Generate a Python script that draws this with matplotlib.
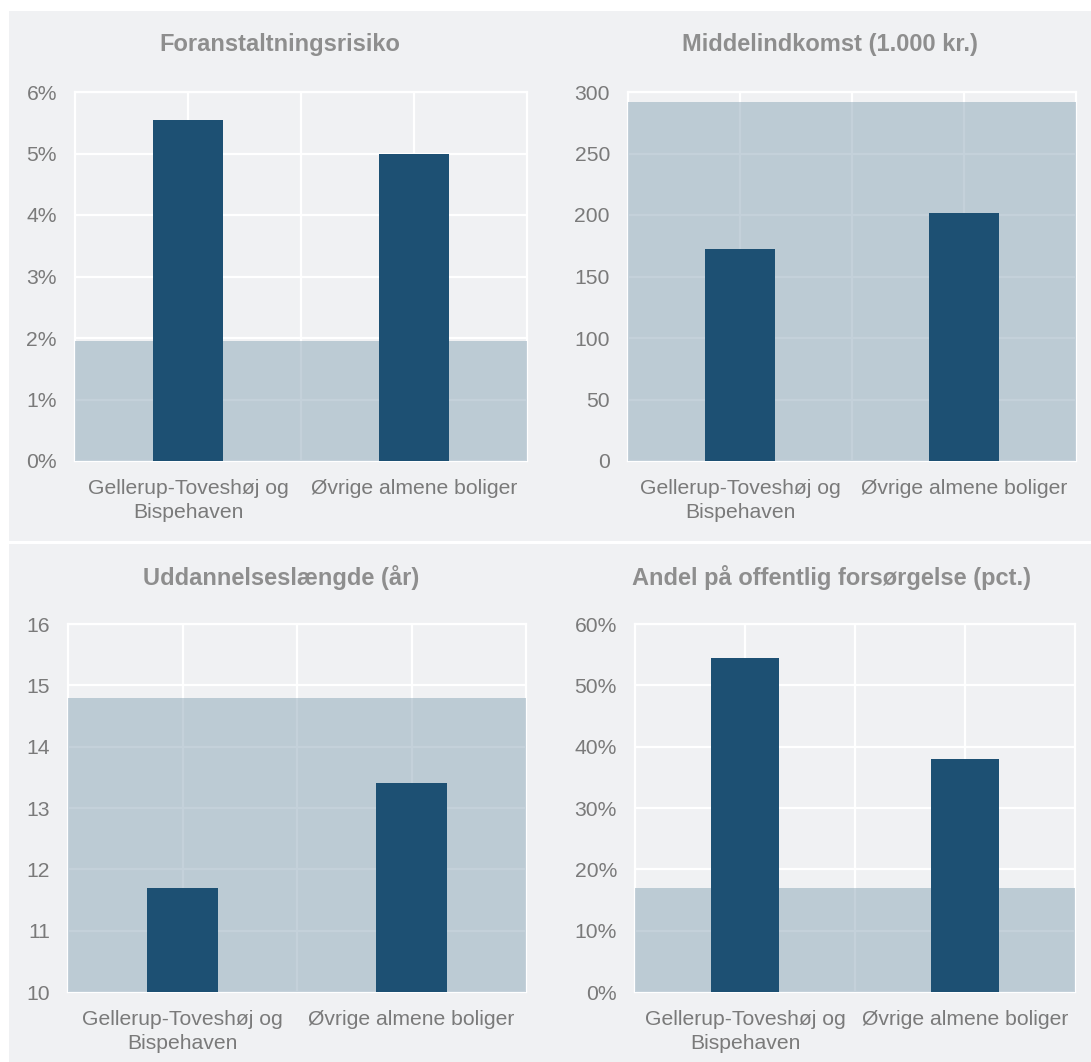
import matplotlib
matplotlib.use("Agg")
import matplotlib.pyplot as plt
from matplotlib.patches import Rectangle
from matplotlib.lines import Line2D
from matplotlib.ticker import FuncFormatter, FixedLocator

plt.rcParams['font.family'] = ['Liberation Sans', 'DejaVu Sans']

categories = ["Gellerup-Toveshøj og\nBispehaven", "Øvrige almene boliger"]

titles = ["Foranstaltningsrisiko", "Middelindkomst (1.000 kr.)",
          "Uddannelseslængde (år)", "Andel på offentlig forsørgelse (pct.)"]

risk_values = [5.55, 5.0]
risk_reference = 1.95
income_values = [172, 202]
income_reference = 292
education_values = [11.7, 13.4]
education_reference = 14.8
support_values = [54.5, 38.0]
support_reference = 17.0

y_limits = [(0, 6), (0, 300), (10, 16), (0, 60)]
y_steps = [1, 50, 1, 10]
percent_axes = [True, False, False, True]

W, H = 1091, 1062
fig = plt.figure(figsize=(W / 100, H / 100), dpi=100, facecolor='white')

BG = '#f0f1f3'
BAR = '#1d5073'
SHADE = '#8ea8b8'
TICK_C = '#7a7a7a'
TITLE_C = '#8e8e8e'

# panel background
fig.patches.append(Rectangle((9 / W, 0), 1 - 9 / W, 1 - 11 / H, transform=fig.transFigure,
                             facecolor=BG, edgecolor='none', zorder=-10))
fig.lines.append(Line2D([9 / W, 1], [1 - 541.5 / H, 1 - 541.5 / H], transform=fig.transFigure,
                        color='white', linewidth=2.2, zorder=-5))

# axes boxes in pixel coords (left, right, top, bottom)
boxes = [(75, 527, 92, 461), (628, 1076, 92, 461), (68, 526, 624, 992), (635, 1075, 624, 992)]
title_pos = [(280, 45), (830, 45), (281, 578), (831, 578)]

series = [risk_values, income_values, education_values, support_values]
refs = [risk_reference, income_reference, education_reference, support_reference]

for i in range(4):
    l, r, t, b = boxes[i]
    ax = fig.add_axes([l / W, 1 - b / H, (r - l) / W, (b - t) / H])
    ax.set_facecolor(BG)
    lo, hi = y_limits[i]
    ax.set_xlim(-0.5, 1.5)
    ax.set_ylim(lo, hi)
    ax.set_axisbelow(True)
    # reference shading
    ax.axhspan(lo, refs[i], color=SHADE, alpha=0.52, linewidth=0, zorder=1.5)
    ax.bar(range(len(categories)), series[i], width=0.31, color=BAR, zorder=3, bottom=0)
    ticks = []
    v = lo
    while v <= hi + 1e-9:
        ticks.append(v)
        v += y_steps[i]
    ax.set_yticks(ticks)
    if percent_axes[i]:
        ax.yaxis.set_major_formatter(FuncFormatter(lambda x, p: f"{x:.0f}%"))
    else:
        ax.yaxis.set_major_formatter(FuncFormatter(lambda x, p: f"{x:.0f}"))
    ax.set_xticks(range(len(categories)))
    ax.set_xticklabels(categories, linespacing=1.3)
    ax.xaxis.set_minor_locator(FixedLocator([0.5]))
    ax.grid(True, which='major', color='white', linewidth=1.6, zorder=0)
    ax.grid(True, which='minor', axis='x', color='white', linewidth=1.6, zorder=0)
    ax.tick_params(axis='both', which='both', length=0, labelsize=15.2, colors=TICK_C)
    ax.tick_params(axis='y', pad=13)
    ax.tick_params(axis='x', pad=13)
    for s in ax.spines.values():
        s.set_color('white')
        s.set_linewidth(1.6)
        s.set_zorder(1)
    tx, ty = title_pos[i]
    fig.text(tx / W, 1 - ty / H, titles[i], ha='center', va='center',
             fontsize=17, fontweight='bold', color=TITLE_C)

fig.savefig('out.png', dpi=100, facecolor='white')
